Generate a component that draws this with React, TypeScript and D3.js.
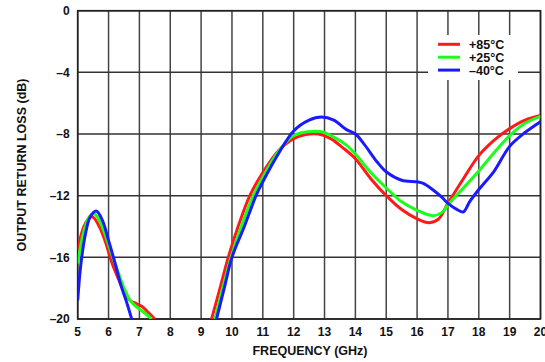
import React, { useRef, useEffect } from 'react';
import * as d3 from 'd3';

// Tick values
const xTicks = [5, 6, 7, 8, 9, 10, 11, 12, 13, 14, 15, 16, 17, 18, 19, 20];
const yTicks = [0, -4, -8, -12, -16, -20];

// +85°C, low band and high band (freq GHz, dB)
const red1 = [[5.0, -15.5], [5.2, -14.0], [5.4, -13.4], [5.5, -13.4], [5.7, -14.0], [5.9, -15.0], [6.1, -16.3], [6.3, -17.3], [6.5, -18.2], [6.7, -18.8], [6.9, -19.0], [7.1, -19.2], [7.3, -19.6], [7.5, -20.0]];
const red2 = [[9.34, -20], [9.6, -18.1], [9.88, -16], [10.2, -14.0], [10.58, -12], [11.0, -10.5], [11.5, -9.1], [12.0, -8.3], [12.5, -8.0], [12.8, -8.0], [13.2, -8.3], [13.6, -8.9], [14.0, -9.6], [14.5, -10.9], [15.0, -12.0], [15.5, -12.9], [16.0, -13.5], [16.4, -13.75], [16.7, -13.5], [17.0, -12.5], [17.5, -10.9], [18.0, -9.4], [18.5, -8.4], [19.0, -7.65], [19.5, -7.1], [20.0, -6.8]];

// +25°C
const green1 = [[5.0, -16.4], [5.2, -14.3], [5.4, -13.3], [5.55, -13.2], [5.7, -13.6], [5.9, -14.6], [6.1, -15.8], [6.3, -16.9], [6.5, -18.0], [6.7, -18.8], [6.9, -19.2], [7.1, -19.5], [7.4, -20.0]];
const green2 = [[9.45, -20], [9.7, -18], [9.97, -16], [10.3, -14], [10.69, -12], [11.0, -10.8], [11.5, -9.15], [12.0, -8.1], [12.5, -7.85], [12.9, -7.85], [13.3, -8.2], [13.7, -8.7], [14.0, -9.3], [14.5, -10.5], [15.0, -11.5], [15.5, -12.4], [16.0, -12.95], [16.5, -13.3], [16.8, -13.1], [17.0, -12.6], [17.5, -11.5], [18.0, -10.4], [18.5, -9.2], [19.0, -8.1], [19.5, -7.3], [20.0, -6.85]];

// -40°C
const blue1 = [[5.0, -18.8], [5.1, -16.5], [5.25, -14.5], [5.4, -13.4], [5.6, -13.0], [5.8, -13.6], [6.0, -14.9], [6.2, -16.3], [6.4, -17.8], [6.6, -19.0], [6.75, -20.0]];
const blue2 = [[9.5, -20], [9.75, -18], [10.0, -16], [10.4, -14], [10.78, -12], [11.0, -11.1], [11.5, -9.3], [12.0, -7.8], [12.5, -7.1], [12.9, -6.9], [13.3, -7.1], [13.7, -7.7], [14.0, -8.0], [14.3, -8.7], [14.7, -9.8], [15.0, -10.45], [15.5, -11.0], [16.0, -11.1], [16.2, -11.2], [16.5, -11.6], [16.8, -12.1], [17.0, -12.5], [17.3, -12.9], [17.5, -13.05], [17.7, -12.4], [18.0, -11.6], [18.5, -10.4], [19.0, -8.8], [19.5, -7.9], [20.0, -7.2]];

const series = [
  { label: '+85°C', color: '#ff1a1a', parts: [red1, red2] },
  { label: '+25°C', color: '#1aff1a', parts: [green1, green2] },
  { label: '–40°C', color: '#1a1aff', parts: [blue1, blue2] },
];

export default function App() {
  const svgRef = useRef(null);

  useEffect(() => {
    const w = 545;
    const h = 362;
    const margin = { top: 10.7, right: 4.5, bottom: 43, left: 77.7 };
    const innerWidth = w - margin.left - margin.right;
    const innerHeight = h - margin.top - margin.bottom;
    const font = 'Liberation Sans, Arial, sans-serif';

    const svg = d3.select(svgRef.current);
    svg.selectAll('*').remove();

    const xScale = d3.scaleLinear().domain([5, 20]).range([0, innerWidth]);
    const yScale = d3.scaleLinear().domain([-20, 0]).range([innerHeight, 0]);

    const g = svg.append('g').attr('transform', `translate(${margin.left}, ${margin.top})`);

    // grid
    g.selectAll('line.vgrid')
      .data(xTicks)
      .enter()
      .append('line')
      .attr('x1', d => xScale(d))
      .attr('x2', d => xScale(d))
      .attr('y1', 0)
      .attr('y2', innerHeight)
      .style('stroke', '#444')
      .style('stroke-width', 1.5);

    g.selectAll('line.hgrid')
      .data(yTicks)
      .enter()
      .append('line')
      .attr('x1', 0)
      .attr('x2', innerWidth)
      .attr('y1', d => yScale(d))
      .attr('y2', d => yScale(d))
      .style('stroke', '#333')
      .style('stroke-width', 1.5);

    // frame
    g.append('rect')
      .attr('width', innerWidth)
      .attr('height', innerHeight)
      .attr('fill', 'none')
      .style('stroke', '#222')
      .style('stroke-width', 1.6);

    // clip
    svg.append('defs').append('clipPath').attr('id', 'plotclip')
      .append('rect').attr('width', innerWidth).attr('height', innerHeight);

    const line = d3.line()
      .x(d => xScale(d[0]))
      .y(d => yScale(d[1]))
      .curve(d3.curveCatmullRom.alpha(0.5));

    const lines = g.append('g').attr('clip-path', 'url(#plotclip)');
    series.forEach(s => {
      s.parts.forEach(p => {
        lines.append('path')
          .datum(p)
          .attr('fill', 'none')
          .attr('stroke', s.color)
          .attr('stroke-width', 3)
          .attr('stroke-linejoin', 'round')
          .attr('d', line);
      });
    });

    // legend
    const legend = svg.append('g').attr('transform', 'translate(428, 35)');
    legend.append('rect').attr('width', 90).attr('height', 45).attr('fill', 'white');
    series.forEach((s, i) => {
      const y = 9.3 + i * 12.9;
      legend.append('line')
        .attr('x1', 10).attr('x2', 32)
        .attr('y1', y).attr('y2', y)
        .attr('stroke', s.color)
        .attr('stroke-width', 3);
      legend.append('text')
        .attr('x', 41)
        .attr('y', y + 4.5)
        .attr('font-family', font)
        .attr('font-weight', 'bold')
        .attr('font-size', 12.5)
        .attr('fill', '#111')
        .text(s.label);
    });

    // tick labels
    g.selectAll('text.xt')
      .data(xTicks)
      .enter()
      .append('text')
      .attr('x', d => xScale(d))
      .attr('y', innerHeight + 17.5)
      .attr('text-anchor', 'middle')
      .attr('font-family', font)
      .attr('font-weight', 'bold')
      .attr('font-size', 12)
      .attr('fill', '#111')
      .text(d => d);

    g.selectAll('text.yt')
      .data(yTicks)
      .enter()
      .append('text')
      .attr('x', -8)
      .attr('y', d => yScale(d) + 4.3)
      .attr('text-anchor', 'end')
      .attr('font-family', font)
      .attr('font-weight', 'bold')
      .attr('font-size', 12)
      .attr('fill', '#111')
      .text(d => (d < 0 ? '–' + Math.abs(d) : d));

    // axis titles
    svg.append('text')
      .attr('x', 310)
      .attr('y', 355)
      .attr('text-anchor', 'middle')
      .attr('font-family', font)
      .attr('font-weight', 'bold')
      .attr('font-size', 12.5)
      .attr('fill', '#111')
      .text('FREQUENCY (GHz)');

    svg.append('text')
      .attr('transform', 'translate(25.5, 165) rotate(-90)')
      .attr('text-anchor', 'middle')
      .attr('font-family', font)
      .attr('font-weight', 'bold')
      .attr('font-size', 12.5)
      .attr('fill', '#111')
      .text('OUTPUT RETURN LOSS (dB)');
  }, []);

  return (
    <div style={{ position: 'absolute', left: 0, top: 0 }}>
      <svg ref={svgRef} width={545} height={362} style={{ display: 'block', background: 'white' }}></svg>
    </div>
  );
}
